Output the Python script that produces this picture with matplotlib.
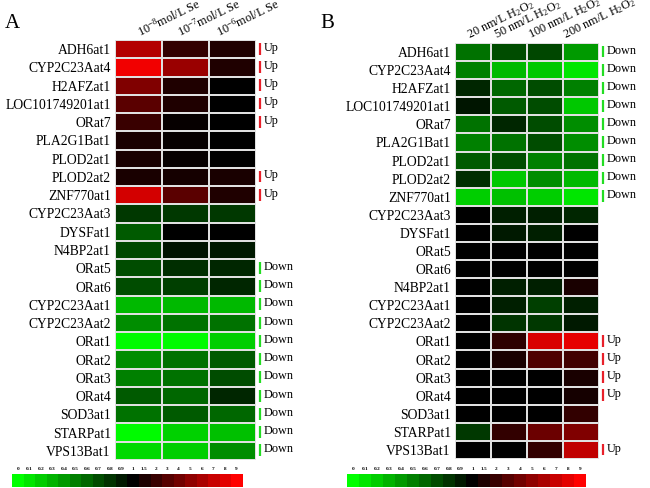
import numpy as np
import matplotlib.pyplot as plt
from matplotlib.colors import LinearSegmentedColormap

plt.rcParams['font.family'] = ['Liberation Serif', 'DejaVu Serif']
plt.rcParams['mathtext.fontset'] = 'custom'
plt.rcParams['mathtext.rm'] = 'Liberation Serif'
plt.rcParams['mathtext.it'] = 'Liberation Serif:italic'
plt.rcParams['mathtext.default'] = 'rm'

# fold-change scale of the colour key
scale_ticks = [0, 0.1, 0.2, 0.3, 0.4, 0.5, 0.6, 0.7, 0.8, 0.9, 1, 1.5, 2, 3, 4, 5, 6, 7, 8, 9]
scale_labels = ['0', '0.1', '0.2', '0.3', '0.4', '0.5', '0.6', '0.7', '0.8', '0.9',
                '1', '1.5', '2', '3', '4', '5', '6', '7', '8', '9']

# panel A
genes_a = ['ADH6at1', 'CYP2C23Aat4', 'H2AFZat1', 'LOC101749201at1', 'ORat7', 'PLA2G1Bat1',
           'PLOD2at1', 'PLOD2at2', 'ZNF770at1', 'CYP2C23Aat3', 'DYSFat1', 'N4BP2at1',
           'ORat5', 'ORat6', 'CYP2C23Aat1', 'CYP2C23Aat2', 'ORat1', 'ORat2', 'ORat3',
           'ORat4', 'SOD3at1', 'STARPat1', 'VPS13Bat1']
conc_a = ['10$^{-8}$mol/L Se', '10$^{-7}$mol/L Se', '10$^{-6}$mol/L Se']
fold_a = [
    [6.3, 1.9, 1.54],
    [8.55, 5.4, 1.54],
    [4.5, 1.54, 1.0],
    [3.15, 1.54, 1.0],
    [1.99, 1.1, 1.0],
    [1.45, 1.1, 1.0],
    [1.45, 1.1, 1.0],
    [1.45, 1.36, 1.45],
    [7.38, 3.15, 1.54],
    [0.78, 0.78, 0.78],
    [0.65, 1.0, 1.0],
    [0.72, 0.93, 0.9],
    [0.7, 0.82, 0.85],
    [0.7, 0.75, 0.85],
    [0.28, 0.28, 0.28],
    [0.45, 0.55, 0.55],
    [0.02, 0.02, 0.2],
    [0.45, 0.55, 0.65],
    [0.5, 0.55, 0.7],
    [0.65, 0.6, 0.85],
    [0.55, 0.65, 0.6],
    [0.02, 0.18, 0.25],
    [0.15, 0.2, 0.45],
]
trend_a = ['Up', 'Up', 'Up', 'Up', 'Up', '', '', 'Up', 'Up', '', '', '',
           'Down', 'Down', 'Down', 'Down', 'Down', 'Down', 'Down', 'Down', 'Down', 'Down', 'Down']

# panel B
genes_b = ['ADH6at1', 'CYP2C23Aat4', 'H2AFZat1', 'LOC101749201at1', 'ORat7', 'PLA2G1Bat1',
           'PLOD2at1', 'PLOD2at2', 'ZNF770at1', 'CYP2C23Aat3', 'DYSFat1', 'ORat5', 'ORat6',
           'N4BP2at1', 'CYP2C23Aat1', 'CYP2C23Aat2', 'ORat1', 'ORat2', 'ORat3', 'ORat4',
           'SOD3at1', 'STARPat1', 'VPS13Bat1']
conc_b = ['20 nm/L H$_2$O$_2$', '50 nm/L H$_2$O$_2$', '100 nm/L H$_2$O$_2$', '200 nm/L H$_2$O$_2$']
fold_b = [
    [0.55, 0.7, 0.72, 0.4],
    [0.5, 0.28, 0.22, 0.1],
    [0.85, 0.6, 0.7, 0.5],
    [0.92, 0.65, 0.7, 0.22],
    [0.55, 0.85, 0.7, 0.45],
    [0.5, 0.55, 0.7, 0.45],
    [0.65, 0.7, 0.5, 0.55],
    [0.82, 0.22, 0.45, 0.28],
    [0.2, 0.25, 0.2, 0.1],
    [1.0, 0.88, 0.88, 0.85],
    [1.0, 0.9, 0.88, 1.0],
    [1.0, 1.0, 1.0, 1.0],
    [1.0, 1.0, 1.0, 1.0],
    [1.0, 0.88, 0.88, 1.45],
    [1.0, 0.88, 0.75, 0.88],
    [1.0, 0.8, 0.78, 0.9],
    [1.0, 1.81, 7.65, 8.1],
    [1.0, 1.45, 2.7, 2.25],
    [1.0, 1.0, 1.0, 1.45],
    [1.0, 1.0, 1.0, 1.36],
    [1.0, 1.0, 1.0, 1.9],
    [0.78, 1.9, 3.78, 4.5],
    [1.0, 1.0, 1.9, 6.75],
]
trend_b = ['Down'] * 9 + [''] * 7 + ['Up', 'Up', 'Up', 'Up', '', '', 'Up']

cmap = LinearSegmentedColormap.from_list('gkr', [(0, (0, 1, 0)), (10 / 19, (0, 0, 0)), (1, (1, 0, 0))])
W, H = 650, 488


def px(x0, y0, x1, y1):
    # pixel box -> figure rect
    return [x0 / W, 1 - y1 / H, (x1 - x0) / W, (y1 - y0) / H]


def to_index(v):
    return np.interp(v, scale_ticks, np.arange(len(scale_ticks)))


def panel(rect, genes, conc, fold, trend, head_x, cell_px):
    ax = fig.add_axes(rect)
    k = to_index(np.array(fold))
    nr, nc = k.shape
    ax.pcolormesh(k, cmap=cmap, vmin=0, vmax=19, edgecolors=(0.88, 0.88, 0.88), linewidth=1.1)
    ax.set_xlim(0, nc)
    ax.set_ylim(nr, 0)
    ax.set_yticks(np.arange(nr) + 0.5)
    ax.set_yticklabels(genes, fontsize=9.8)
    ax.set_xticks([])
    ax.tick_params(length=0, pad=3)
    for s in ax.spines.values():
        s.set_visible(False)
    for j, c in enumerate(conc):
        ax.text(head_x[j], -0.05, c, rotation=26, rotation_mode='anchor',
                ha='left', va='bottom', fontsize=8.8)
    bx = nc + 3.5 / cell_px
    for i, t in enumerate(trend):
        if not t:
            continue
        col = '#e8202a' if t == 'Up' else '#22dd22'
        ax.plot([bx, bx], [i + 0.15, i + 0.8], color=col, lw=1.6, clip_on=False, solid_capstyle='butt')
        ax.text(bx + 4 / cell_px, i + 0.42, t, fontsize=8.8, ha='left', va='center')
    return ax


def colour_key(rect):
    cax = fig.add_axes(rect)
    n = len(scale_ticks)
    cax.imshow(np.arange(n)[None, :], cmap=cmap, vmin=0, vmax=19, aspect='auto',
               extent=(0, n, 0, 1), interpolation='nearest')
    cax.set_xticks(np.arange(n) + 0.5)
    cax.set_xticklabels(scale_labels, fontsize=3.8, fontweight='bold')
    cax.xaxis.tick_top()
    cax.tick_params(length=0, pad=2)
    cax.set_yticks([])
    for s in cax.spines.values():
        s.set_visible(False)


fig = plt.figure(figsize=(6.5, 4.88), dpi=100)

panel(px(115, 40, 256, 460), genes_a, conc_a, fold_a, trend_a, [0.55, 1.4, 2.25], 47)
panel(px(455, 43, 599, 459), genes_b, conc_b, fold_b, trend_b, [0.45, 1.2, 2.15, 3.1], 36)

colour_key(px(12, 474, 242, 487))
colour_key(px(347, 474, 586, 487))

fig.text(5 / W, 1 - 28 / H, 'A', fontsize=15)
fig.text(320 / W, 1 - 28 / H, 'B', fontsize=15)

fig.savefig('out.png', dpi=100)
